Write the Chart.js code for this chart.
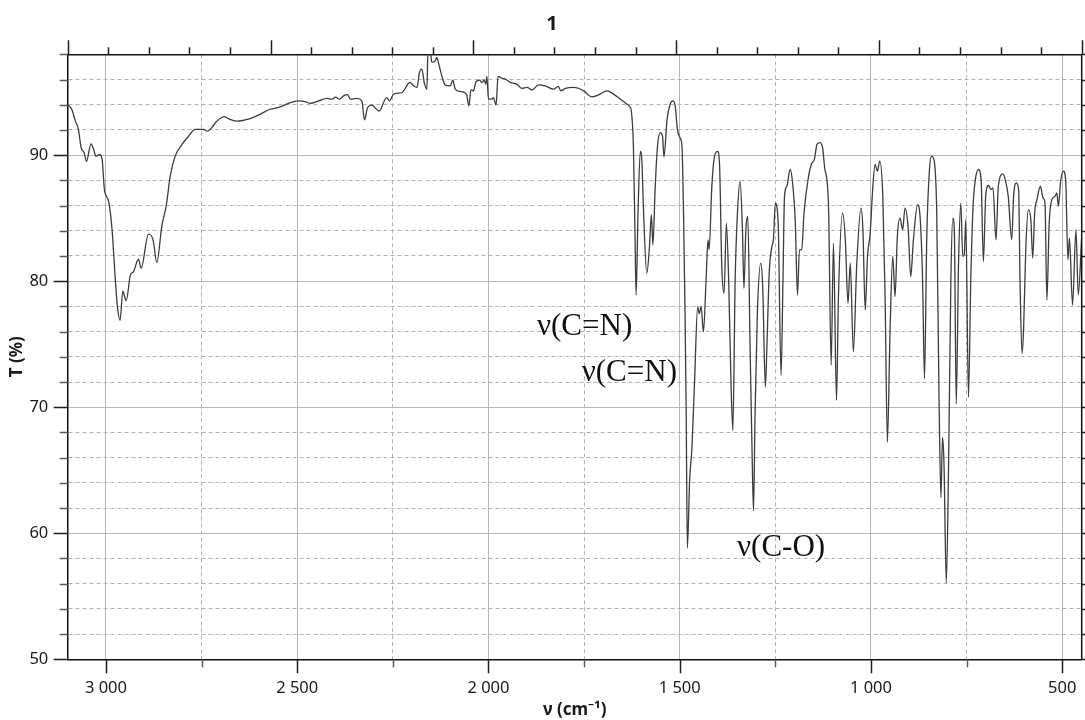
<!DOCTYPE html>
<html>
<head>
<meta charset="utf-8">
<title>IR spectrum 1</title>
<script src="https://cdn.jsdelivr.net/npm/chart.js@4.4.1/dist/chart.umd.min.js"></script>
<style>
  html, body { margin: 0; padding: 0; background: #ffffff; }
  #wrap { width: 1085px; height: 720px; }
</style>
</head>
<body>
<div id="wrap"><canvas id="ir" width="1085" height="720"></canvas></div>
<script>
// Wavenumber (cm-1), from high to low
const wavenumber = [
  3100, 3089, 3080, 3072, 3065, 3057, 3051, 3039, 3032, 3026, 3017, 3010, 3004, 2993, 2984, 2976,
  2970, 2963, 2956, 2947, 2936, 2928, 2915, 2908, 2889, 2877, 2867, 2854, 2842, 2832, 2819, 2801,
  2784, 2767, 2745, 2734, 2723, 2710, 2690, 2680, 2658, 2623, 2597, 2571, 2549, 2518, 2497, 2475,
  2466, 2444, 2422, 2409, 2400, 2389, 2379, 2368, 2361, 2344, 2331, 2324, 2316, 2305, 2286, 2266,
  2259, 2248, 2226, 2205, 2196, 2187, 2180, 2174, 2168, 2161, 2158, 2152, 2148, 2139, 2135, 2131,
  2122, 2113, 2100, 2093, 2087, 2074, 2065, 2057, 2051, 2046, 2039, 2033, 2023, 2017, 2011, 2007,
  2004, 2000, 1991, 1987, 1980, 1975, 1965, 1956, 1943, 1926, 1913, 1899, 1886, 1869, 1852, 1830,
  1817, 1811, 1799, 1778, 1751, 1730, 1712, 1690, 1673, 1655, 1638, 1629, 1626, 1621, 1617, 1614,
  1609, 1603, 1599, 1595, 1586, 1579, 1574, 1570, 1564, 1558, 1551, 1545, 1541, 1533, 1525, 1518,
  1512, 1506, 1499, 1494, 1490, 1486, 1483, 1480, 1474, 1468, 1461, 1453, 1449, 1444, 1438, 1431,
  1426, 1423, 1416, 1409, 1401, 1396, 1390, 1384, 1378, 1372, 1366, 1361, 1355, 1349, 1342, 1336,
  1332, 1327, 1322, 1316, 1311, 1307, 1303, 1297, 1288, 1283, 1276, 1272, 1266, 1259, 1255, 1250,
  1246, 1242, 1235, 1230, 1226, 1220, 1211, 1204, 1198, 1192, 1187, 1181, 1175, 1163, 1156, 1148,
  1141, 1133, 1126, 1121, 1111, 1104, 1098, 1090, 1085, 1074, 1067, 1060, 1054, 1046, 1037, 1026,
  1021, 1015, 1009, 1002, 995, 989, 983, 977, 969, 963, 957, 950, 943, 937, 931, 924,
  917, 911, 903, 896, 889, 878, 871, 865, 860, 854, 847, 841, 834, 828, 822, 817,
  813, 809, 803, 797, 791, 786, 782, 777, 771, 765, 760, 756, 752, 745, 739, 733,
  727, 719, 712, 706, 700, 693, 686, 681, 673, 667, 655, 649, 641, 632, 627, 620,
  614, 610, 605, 601, 595, 588, 582, 577, 572, 566, 557, 550, 545, 540, 534, 527,
  519, 514, 510, 504, 497, 491, 485, 481, 473, 464, 458, 449
];

// Transmittance (%) at each wavenumber
const transmittance = [
  94.0, 93.6, 92.7, 92.05, 90.6, 90.2, 89.5, 90.9, 90.45, 89.9, 90.05, 89.66, 87.27, 86.34, 84.08, 80.36,
  77.97, 76.9, 79.2, 78.45, 80.5, 80.76, 81.75, 81.03, 83.74, 83.3, 81.48, 84.35, 86.07, 88.33, 89.92, 90.85,
  91.5, 92.05, 92.05, 91.9, 92.2, 92.7, 93.06, 92.9, 92.7, 92.9, 93.24, 93.64, 93.78, 94.17, 94.3, 94.2,
  94.1, 94.3, 94.5, 94.44, 94.6, 94.44, 94.7, 94.8, 94.44, 94.5, 94.3, 92.8, 93.78, 93.96, 93.5, 94.57,
  94.3, 94.84, 94.97, 95.77, 95.5, 95.37, 96.6, 96.83, 95.77, 95.23, 98.3, 98.2, 97.36, 97.5, 97.76, 97.36,
  96.3, 95.55, 95.5, 95.95, 95.23, 95.05, 95.0, 94.8, 93.9, 95.17, 95.1, 95.8, 95.95, 95.77, 95.95, 95.63,
  96.25, 94.44, 94.44, 94.57, 93.96, 96.25, 96.1, 96.03, 95.77, 95.63, 95.29, 95.37, 95.17, 95.58, 95.5, 95.23,
  95.45, 95.1, 95.29, 95.37, 95.1, 94.62, 94.78, 95.1, 94.84, 94.44, 94.04, 93.78, 93.4, 90.7, 84.08, 78.9,
  85.4, 90.3, 89.66, 85.94, 80.63, 82.75, 85.28, 82.89, 87.5, 90.7, 91.78, 91.5, 89.87, 92.84, 94.04, 94.3,
  93.96, 92.05, 91.38, 90.7, 85.4, 77.44, 69.47, 58.85, 64.2, 66.8, 72.13, 77.97, 77.44, 77.97, 75.98, 80.1,
  83.28, 82.5, 87.5, 89.9, 90.3, 89.4, 81.16, 79.04, 84.6, 80.1, 72.13, 68.15, 80.1, 85.4, 87.93, 84.08,
  79.44, 84.08, 85.14, 74.8, 66.8, 61.78, 69.47, 77.44, 81.43, 79.57, 71.6, 74.8, 80.63, 82.75, 83.28, 86.2,
  85.94, 84.08, 72.53, 80.1, 86.73, 87.53, 88.86, 87.53, 84.88, 78.9, 82.49, 82.49, 85.4, 88.33, 89.26, 89.66,
  90.85, 90.99, 90.5, 89.0, 86.07, 73.33, 83.0, 70.54, 78.77, 85.4, 83.28, 78.24, 81.43, 74.39, 81.43, 85.8,
  84.08, 77.7, 81.96, 83.8, 87.53, 89.26, 88.73, 89.52, 86.73, 78.77, 67.22, 76.1, 81.96, 78.77, 83.55, 85.01,
  84.08, 85.8, 84.35, 80.36, 83.28, 86.07, 84.88, 80.1, 72.26, 83.55, 88.86, 89.92, 89.4, 85.41, 70.8, 62.83,
  67.6, 65.5, 56.06, 65.5, 80.1, 85.0, 84.08, 70.28, 81.43, 86.2, 81.96, 82.09, 84.88, 70.8, 80.1, 85.94,
  88.06, 88.86, 88.06, 81.56, 86.73, 87.59, 87.27, 87.4, 83.28, 87.53, 88.51, 88.06, 86.73, 83.28, 86.73, 87.8,
  87.27, 79.57, 74.26, 76.1, 82.75, 85.67, 84.88, 81.83, 85.4, 86.47, 87.53, 86.6, 86.2, 78.5, 84.6, 86.47,
  86.73, 87.0, 85.94, 87.93, 88.73, 88.06, 81.7, 83.42, 78.1, 84.08, 78.9, 83.55
];

// Band assignments: label text and the (wavenumber, T) point where the text starts
const bandText = ['\u03bd(C=N)', '\u03bd(C=N)', '\u03bd(C-O)'];
const bandWavenumber = [1873, 1756, 1350];
const bandTransmittance = [75.7, 72.1, 58.2];

const chartTitle = '1';
const xAxisTitle = '\u03bd (cm\u207b\u00b9)';
const yAxisTitle = 'T (%)';

const xRange = [449, 3100];
const yRange = [50, 98];

const TICK_FONT = { family: "'Noto Sans', 'DejaVu Sans', sans-serif", size: 16.5 };
const TITLE_FONT = { family: "'Noto Sans', 'DejaVu Sans', sans-serif", size: 17, weight: 'bold' };

function formatWavenumber(v) {
  if (v >= 1000) {
    const thousands = Math.floor(v / 1000);
    const rest = String(v % 1000).padStart(3, '0');
    return thousands + ' ' + rest;
  }
  return String(v);
}

// Keep the frame fixed: the axis boxes get set sizes and no extra label overhang
function pinSize(prop, size) {
  return scale => {
    scale[prop] = size;
    scale.paddingLeft = 0;
    scale.paddingRight = 0;
    scale.paddingTop = 0;
    scale.paddingBottom = 0;
  };
}

// Tick marks around the frame (major ones longer) and the right-hand border
const frameTicks = {
  id: 'frameTicks',
  afterDraw(chart) {
    const { ctx, chartArea: a, scales } = chart;
    const x = scales.x, y = scales.y, top = scales.x2;
    ctx.save();
    const seg = (x1, y1, x2, y2, major) => {
      ctx.strokeStyle = major ? '#1e1e1e' : '#5a5a5a';
      ctx.lineWidth = 1.5;
      ctx.beginPath();
      ctx.moveTo(x1, y1);
      ctx.lineTo(x2, y2);
      ctx.stroke();
    };
    x.ticks.forEach(t => {
      const major = t.value % 500 === 0;
      const px = Math.round(x.getPixelForValue(t.value)) + 0.5;
      seg(px, a.bottom, px, a.bottom + (major ? 14 : 8), major);
    });
    y.ticks.forEach(t => {
      const major = t.value % 10 === 0;
      const py = Math.round(y.getPixelForValue(t.value)) + 0.5;
      seg(a.left - (major ? 14 : 8), py, a.left, py, major);
      seg(a.right, py, a.right + 8, py, true);
    });
    for (let i = top.min; i <= top.max; i++) {
      const major = i % 5 === 0;
      const px = Math.round(top.getPixelForValue(i)) + 0.5;
      seg(px, a.top, px, a.top - (major ? 14 : 7), true);
    }
    ctx.strokeStyle = '#111111';
    ctx.lineWidth = 1.5;
    ctx.beginPath();
    ctx.moveTo(a.right, a.top);
    ctx.lineTo(a.right, a.bottom);
    ctx.stroke();
    ctx.restore();
  }
};

// Band assignment labels, placed through the axes
const bandLabels = {
  id: 'bandLabels',
  afterDatasetsDraw(chart) {
    const { ctx, scales: { x, y } } = chart;
    ctx.save();
    ctx.font = "31px 'Liberation Serif', 'Times New Roman', serif";
    ctx.fillStyle = '#111111';
    ctx.textAlign = 'left';
    ctx.textBaseline = 'alphabetic';
    bandText.forEach((txt, i) => {
      ctx.fillText(txt, x.getPixelForValue(bandWavenumber[i]), y.getPixelForValue(bandTransmittance[i]));
    });
    ctx.restore();
  }
};

// Sample number above the frame
const sampleTitle = {
  id: 'sampleTitle',
  afterDraw(chart) {
    const { ctx } = chart;
    ctx.save();
    ctx.font = "bold 20px 'Noto Sans', 'DejaVu Sans', sans-serif";
    ctx.fillStyle = '#1a1a1a';
    ctx.textAlign = 'center';
    ctx.textBaseline = 'middle';
    ctx.fillText(chartTitle, 552, 24);
    ctx.restore();
  }
};

const points = wavenumber.map((w, i) => ({ x: w, y: transmittance[i] }));

const solidGrid = '#b6b6b6';
const dashedGrid = '#b2b2b2';

new Chart(document.getElementById('ir'), {
  type: 'line',
  data: {
    datasets: [{
      data: points,
      borderColor: '#3c3c3c',
      borderWidth: 1.3,
      pointRadius: 0,
      fill: false,
      cubicInterpolationMode: 'monotone'
    }]
  },
  options: {
    responsive: false,
    animation: false,
    events: [],
    devicePixelRatio: 1,
    layout: { padding: { top: 40, right: 3.3, left: 0, bottom: 0 } },
    plugins: {
      legend: { display: false },
      tooltip: { enabled: false },
      title: { display: false }
    },
    scales: {
      x: {
        type: 'linear',
        position: 'bottom',
        reverse: true,
        min: xRange[0],
        max: xRange[1],
        afterFit: pinSize('height', 60.7),
        ticks: {
          stepSize: 250,
          includeBounds: false,
          autoSkip: false,
          maxRotation: 0,
          padding: 19.5,
          color: '#1a1a1a',
          font: TICK_FONT,
          callback: v => (v % 500 === 0 ? formatWavenumber(v) : '')
        },
        grid: {
          drawTicks: false,
          color: ctx => (ctx.tick && ctx.tick.value % 500 === 0 ? solidGrid : dashedGrid),
          lineWidth: 1
        },
        border: {
          display: true,
          color: '#111111',
          width: 1.5,
          dash: ctx => (ctx.tick && ctx.tick.value % 500 === 0 ? [] : [4, 3])
        },
        title: {
          display: true,
          text: xAxisTitle,
          color: '#1a1a1a',
          font: TITLE_FONT,
          padding: { top: 0, bottom: 0 }
        }
      },
      x2: {
        type: 'linear',
        position: 'top',
        min: 0,
        max: 25,
        afterFit: pinSize('height', 14.3),
        ticks: { display: false, stepSize: 1 },
        grid: { drawOnChartArea: false, drawTicks: false },
        border: { display: true, color: '#111111', width: 1.5 }
      },
      y: {
        type: 'linear',
        position: 'left',
        min: yRange[0],
        max: yRange[1],
        afterFit: pinSize('width', 67.7),
        ticks: {
          stepSize: 2,
          autoSkip: false,
          padding: 19.4,
          color: '#1a1a1a',
          font: TICK_FONT,
          callback: v => (v % 10 === 0 ? String(v) : '')
        },
        grid: {
          drawTicks: false,
          color: ctx => (ctx.tick && ctx.tick.value % 10 === 0 ? solidGrid : dashedGrid),
          lineWidth: 1
        },
        border: {
          display: true,
          color: '#111111',
          width: 1.5,
          dash: ctx => (ctx.tick && ctx.tick.value % 10 === 0 ? [] : [4, 3])
        },
        title: {
          display: true,
          text: yAxisTitle,
          color: '#1a1a1a',
          font: TITLE_FONT,
          padding: { top: 6.5, bottom: 0 }
        }
      }
    }
  },
  plugins: [frameTicks, bandLabels, sampleTitle]
});
</script>
</body>
</html>
